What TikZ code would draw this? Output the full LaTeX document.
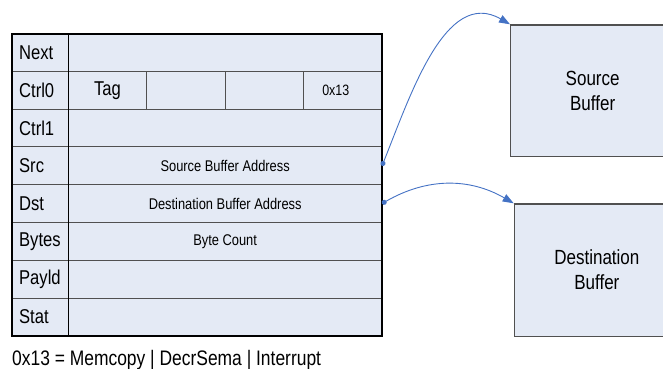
\documentclass[tikz,border=0pt]{standalone}
\usepackage{fontspec}
\setmainfont{Liberation Sans}[FakeStretch=0.83]
\usepackage{tikz}
\usetikzlibrary{arrows.meta, positioning}

\definecolor{cellfill}{RGB}{228,234,245}
\definecolor{gridline}{RGB}{80,80,80}
\definecolor{linkblue}{RGB}{68,114,196}

\begin{document}
\begin{tikzpicture}[
            x=1pt, y=1pt,
            cell/.style ={draw=gridline, line width=1pt, fill=cellfill, inner sep=0pt,
                    outer sep=0pt, minimum height=37.8pt},
            lbl/.style  ={cell, minimum width=56.3pt, text width=42pt, align=left,
                    font=\fontsize{20}{22}\selectfont},
            fld/.style  ={cell, minimum width=313.7pt, font=\fontsize{15.5}{17}\selectfont},
            sub/.style  ={cell, minimum width=78.425pt},
            buf/.style  ={draw=gridline, line width=1.3pt, fill=cellfill, align=center,
                    inner sep=0pt, font=\fontsize{20.5}{25}\selectfont},
            link/.style ={{Circle[length=5pt]}-{Triangle[length=11pt,width=8pt]},
                    draw=linkblue, line width=0.9pt}
        ]
        \useasboundingbox (0,0) rectangle (663,368);

        %% --- descriptor: label column ---
        \node[lbl, anchor=north west] (next) at (12,334.5) {Next};
        \node[lbl, below=0pt of next]  (ctrl0) {Ctrl0};
        \node[lbl, below=0pt of ctrl0] (ctrl1) {Ctrl1};
        \node[lbl, below=0pt of ctrl1] (src)   {Src};
        \node[lbl, below=0pt of src]   (dst)   {Dst};
        \node[lbl, below=0pt of dst]   (bytes) {Bytes};
        \node[lbl, below=0pt of bytes] (payld) {Payld};
        \node[lbl, below=0pt of payld] (stat)  {Stat};

        %% --- descriptor: field column ---
        \node[fld, right=0pt of next]  (nextf)  {};
        \node[fld, right=0pt of ctrl1] (ctrl1f) {};
        \node[fld, right=0pt of src]   (srcf)   {Source Buffer Address};
        \node[fld, right=0pt of dst]   (dstf)   {Destination Buffer Address};
        \node[fld, right=0pt of bytes] (bytesf) {Byte Count};
        \node[fld, right=0pt of payld] (payldf) {};
        \node[fld, right=0pt of stat]  (statf)  {};

        % Ctrl0 is split in four sub-fields
        \node[sub, right=0pt of ctrl0, font=\fontsize{20}{22}\selectfont] (tag) {Tag};
        \node[sub, right=0pt of tag]   (ctlb) {};
        \node[sub, right=0pt of ctlb]  (ctlc) {};
        \node[sub, right=0pt of ctlc, text width=41pt, align=left,
              font=\fontsize{15}{17}\selectfont] (ctlop) {0x13};

        % heavy frame and label divider
        \draw[line width=1.5pt] (next.north east) -- (stat.south east);
        \draw[line width=2pt] (next.north west) rectangle (statf.south east);

        %% --- buffers (right), cut by the page edge ---
        \node[buf, anchor=north west, minimum width=164pt, minimum height=131.4pt]
              (srcbuf) at (510,343.7) {Source\\Buffer};
        \node[buf, anchor=north west, minimum width=165pt, minimum height=132.4pt]
              (dstbuf) at (513.7,164.7) {Destination\\Buffer};

        %% --- address links ---
        \draw[link] (srcf.east) to[out=68,in=150] (srcbuf.north west);
        \draw[link] (dstf.east) to[out=30,in=150] (dstbuf.north west);

        % opcode legend
        \node[anchor=base west, inner sep=0pt, font=\fontsize{21}{24}\selectfont]
              (legend) at (12,3) {0x13 = Memcopy | DecrSema | Interrupt};

    \end{tikzpicture}
\end{document}
